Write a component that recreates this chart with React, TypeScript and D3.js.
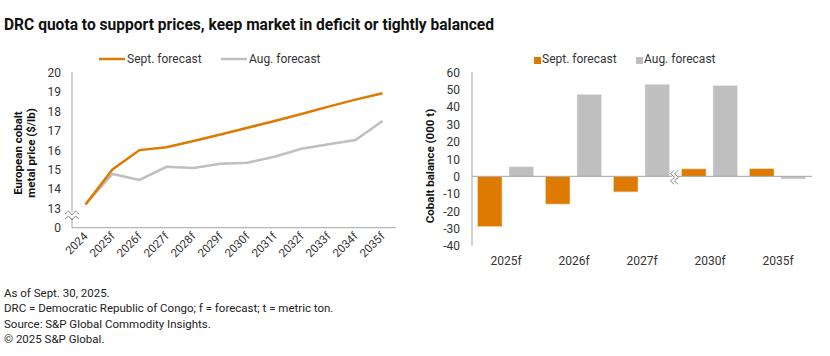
import React from "react";
import * as d3 from "d3";

const years = ["2024","2025f","2026f","2027f","2028f","2029f","2030f","2031f","2032f","2033f","2034f","2035f"];
const septPrice = [13.2, 15.0, 16.0, 16.15, 16.47, 16.8, 17.15, 17.5, 17.86, 18.24, 18.6, 18.93];
const augPrice = [13.2, 14.77, 14.46, 15.14, 15.08, 15.3, 15.35, 15.66, 16.07, 16.3, 16.52, 17.5];
const priceTicks = [13, 14, 15, 16, 17, 18, 19, 20];

const balCats = ["2025f", "2026f", "2027f", "2030f", "2035f"];
const septBal = [-29, -16, -9, 4.3, 4.4];
const augBal = [5.5, 47.3, 53.1, 52.3, -1.5];
const balTicks = [60, 50, 40, 30, 20, 10, 0, -10, -20, -30, -40];

const footnotes = [
  "As of Sept. 30, 2025.",
  "DRC = Democratic Republic of Congo; f = forecast; t = metric ton.",
  "Source: S&P Global Commodity Insights.",
  "\u00A9 2025 S&P Global.",
];

const ORANGE = "#DE7A00";
const GRAY = "#BFBFBF";
const AXIS = "#A6A6A6";
const TXT = "#333333";
const FONT = "Roboto, sans-serif";

export default function App() {
  // Left chart
  const xL = d3.scaleBand<string>().domain(years).range([72, 396]);
  const yL = d3.scaleLinear().domain([12, 20]).range([227.7, 72.5]);
  const lineGen = d3
    .line<number>()
    .x((_, i) => (xL(years[i]) as number) + xL.bandwidth() / 2)
    .y((d) => yL(d));

  // Right chart
  const xR = d3.scaleBand<string>().domain(balCats).range([472, 812]);
  const yR = d3.scaleLinear().domain([-40, 60]).range([245.7, 72.3]);
  const barW = 24.5;
  const y0 = yR(0);

  const breakX = ((xR("2027f") as number) + xR.bandwidth() + (xR("2030f") as number)) / 2 - 1;

  return (
    <svg width={830} height={356} style={{ position: "absolute", left: 0, top: 0, background: "#fff" }} fontFamily={FONT}>
      <text x={4} y={30} fontSize={17} fontWeight={700} fill="#111" textLength={490} lengthAdjust="spacingAndGlyphs">
        DRC quota to support prices, keep market in deficit or tightly balanced
      </text>

      {/* Left legend */}
      <line x1={99} x2={125} y1={59} y2={59} stroke={ORANGE} strokeWidth={2.5} />
      <text x={127} y={63} fontSize={12} fill={TXT}>Sept. forecast</text>
      <line x1={221} x2={247} y1={59} y2={59} stroke={GRAY} strokeWidth={2.5} />
      <text x={249} y={63} fontSize={12} fill={TXT}>Aug. forecast</text>

      {/* Left axes */}
      <line x1={72} x2={72} y1={72} y2={227.7} stroke={AXIS} />
      <line x1={72} x2={396} y1={227.7} y2={227.7} stroke={AXIS} />
      {priceTicks.map((t) => (
        <text key={t} x={61} y={yL(t) + 4.5} fontSize={12} textAnchor="end" fill={TXT}>{t}</text>
      ))}
      <text x={61} y={yL(12) + 4.5} fontSize={12} textAnchor="end" fill={TXT}>0</text>
      {years.map((y) => {
        const cx = (xL(y) as number) + xL.bandwidth() / 2;
        return (
          <text key={y} transform={`translate(${cx + 3},${237}) rotate(-45)`} fontSize={11.5} textAnchor="end" fill={TXT}>{y}</text>
        );
      })}
      <text transform="translate(21.5,153) rotate(-90)" fontSize={11.5} fontWeight={700} textAnchor="middle" fill="#111">
        <tspan x={0} dy={0}>European cobalt</tspan>
        <tspan x={0} dy={13}>metal price ($/lb)</tspan>
      </text>
      {/* y-axis break */}
      <rect x={68} y={212} width={8} height={6} fill="#fff" />
      <path d="M65,214 l3.5,-3 l3.5,4 l3.5,-4 l3.5,3" fill="none" stroke="#777" strokeWidth={0.9} />
      <path d="M65,219 l3.5,-3 l3.5,4 l3.5,-4 l3.5,3" fill="none" stroke="#777" strokeWidth={0.9} />

      <path d={lineGen(augPrice) as string} fill="none" stroke={GRAY} strokeWidth={2.5} />
      <path d={lineGen(septPrice) as string} fill="none" stroke={ORANGE} strokeWidth={2.5} />

      {/* Right legend */}
      <rect x={534} y={57} width={7} height={7} fill={ORANGE} />
      <text x={542} y={63} fontSize={12} fill={TXT}>Sept. forecast</text>
      <rect x={636} y={57} width={7} height={7} fill={GRAY} />
      <text x={644} y={63} fontSize={12} fill={TXT}>Aug. forecast</text>

      {/* Right axes */}
      <line x1={472} x2={472} y1={72} y2={245.7} stroke={AXIS} />
      {balTicks.map((t) => (
        <text key={t} x={460} y={yR(t) + 4.5} fontSize={12} textAnchor="end" fill={TXT}>{t}</text>
      ))}
      <text transform="translate(434,166) rotate(-90)" fontSize={11.5} fontWeight={700} textAnchor="middle" fill="#111">
        Cobalt balance (000 t)
      </text>
      {balCats.map((c, i) => {
        const bx = (xR(c) as number) + 5.5;
        const s = septBal[i];
        const a = augBal[i];
        return (
          <g key={c}>
            <rect x={bx} y={Math.min(yR(s), y0)} width={barW} height={Math.abs(yR(s) - y0)} fill={ORANGE} stroke="#F3D9BD" strokeWidth={0.6} />
            <rect x={bx + 31.5} y={Math.min(yR(a), y0)} width={barW} height={Math.abs(yR(a) - y0)} fill={GRAY} stroke="#E6E6E6" strokeWidth={0.6} />
            <text x={(xR(c) as number) + xR.bandwidth() / 2} y={265} fontSize={12} textAnchor="middle" fill={TXT}>{c}</text>
          </g>
        );
      })}
      <line x1={472} x2={812} y1={y0} y2={y0} stroke={AXIS} />
      {/* x-axis break */}
      <rect x={breakX - 3} y={y0 - 2} width={6} height={4} fill="#fff" />
      <path d={`M${breakX - 1},${y0 - 6} l-3.5,3.5 l4,3.5 l-4,3.5 l3.5,3.5`} fill="none" stroke="#777" strokeWidth={0.9} />
      <path d={`M${breakX + 3},${y0 - 6} l-3.5,3.5 l4,3.5 l-4,3.5 l3.5,3.5`} fill="none" stroke="#777" strokeWidth={0.9} />

      {/* Footnotes */}
      {footnotes.map((f, i) => (
        <text key={i} x={4} y={297 + i * 15.3} fontSize={11.5} fill="#222">{f}</text>
      ))}
    </svg>
  );
}
